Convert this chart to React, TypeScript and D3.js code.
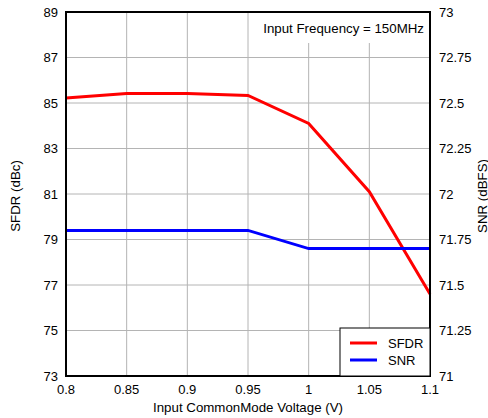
import React from "react";
import * as d3 from "d3";

const voltages = [0.8, 0.85, 0.9, 0.95, 1.0, 1.05, 1.1];
const sfdr = [85.22, 85.42, 85.42, 85.33, 84.1, 81.1, 76.6];
const snr = [71.8, 71.8, 71.8, 71.8, 71.7, 71.7, 71.7];
const xTicks = [0.8, 0.85, 0.9, 0.95, 1.0, 1.05, 1.1];
const xTickLabels = ["0.8", "0.85", "0.9", "0.95", "1", "1.05", "1.1"];
const leftTicks = [73, 75, 77, 79, 81, 83, 85, 87, 89];
const rightTicks = [71, 71.25, 71.5, 71.75, 72, 72.25, 72.5, 72.75, 73];
const rightTickLabels = ["71", "71.25", "71.5", "71.75", "72", "72.25", "72.5", "72.75", "73"];

export default function App() {
  const W = 488, H = 418;
  const L = 66, R = 430, T = 12, B = 376;
  const x = d3.scaleLinear().domain([0.8, 1.1]).range([L, R]);
  const yl = d3.scaleLinear().domain([73, 89]).range([B, T]);
  const yr = d3.scaleLinear().domain([71, 73]).range([B, T]);
  const font = "'Liberation Sans', Arial, sans-serif";
  const lineL = d3.line<number>().x((_, i) => x(voltages[i])).y((d) => yl(d));
  const lineR = d3.line<number>().x((_, i) => x(voltages[i])).y((d) => yr(d));
  return (
    <svg width={W} height={H} style={{ position: "absolute", left: 0, top: 0 }} fontFamily={font}>
      <rect x={0} y={0} width={W} height={H} fill="#fff" />
      {xTicks.slice(1, -1).map((t) => (
        <line key={"gx" + t} x1={x(t)} x2={x(t)} y1={T} y2={B} stroke="#b4b4b4" strokeWidth={1} />
      ))}
      {leftTicks.slice(1, -1).map((t) => (
        <line key={"gy" + t} x1={L} x2={R} y1={yl(t)} y2={yl(t)} stroke="#b4b4b4" strokeWidth={1} />
      ))}
      <rect x={256} y={T + 1} width={R - 257} height={30} fill="#fff" />
      <text x={424} y={33} fontSize={13.3} textAnchor="end" fill="#000">Input Frequency = 150MHz</text>
      <path d={lineL(sfdr) || ""} fill="none" stroke="#ff0000" strokeWidth={3} />
      <path d={lineR(snr) || ""} fill="none" stroke="#0000ff" strokeWidth={3} />
      <rect x={L} y={T} width={R - L} height={B - T} fill="none" stroke="#000" strokeWidth={2} />
      <rect x={340} y={328} width={R - 340} height={B - 328} fill="#fff" stroke="#000" strokeWidth={1} />
      <line x1={350} x2={377} y1={343} y2={343} stroke="#ff0000" strokeWidth={3} />
      <line x1={350} x2={377} y1={360} y2={360} stroke="#0000ff" strokeWidth={3} />
      <text x={388} y={347.5} fontSize={13}>SFDR</text>
      <text x={388} y={364.5} fontSize={13}>SNR</text>
      {leftTicks.map((t) => (
        <text key={"lt" + t} x={58} y={yl(t) + 4.5} fontSize={13} textAnchor="end">{t}</text>
      ))}
      {rightTicks.map((t, i) => (
        <text key={"rt" + t} x={439} y={yr(t) + 4.5} fontSize={13} textAnchor="start">{rightTickLabels[i]}</text>
      ))}
      {xTicks.map((t, i) => (
        <text key={"xt" + t} x={x(t)} y={394} fontSize={13} textAnchor="middle">{xTickLabels[i]}</text>
      ))}
      <text x={(L + R) / 2} y={412} fontSize={13.3} textAnchor="middle">Input CommonMode Voltage (V)</text>
      <text transform={`translate(19.5, ${(T + B) / 2 + 2}) rotate(-90)`} fontSize={13.3} textAnchor="middle">SFDR (dBc)</text>
      <text transform={`translate(486.5, ${(T + B) / 2 + 2}) rotate(-90)`} fontSize={13.3} textAnchor="middle">SNR (dBFS)</text>
    </svg>
  );
}
